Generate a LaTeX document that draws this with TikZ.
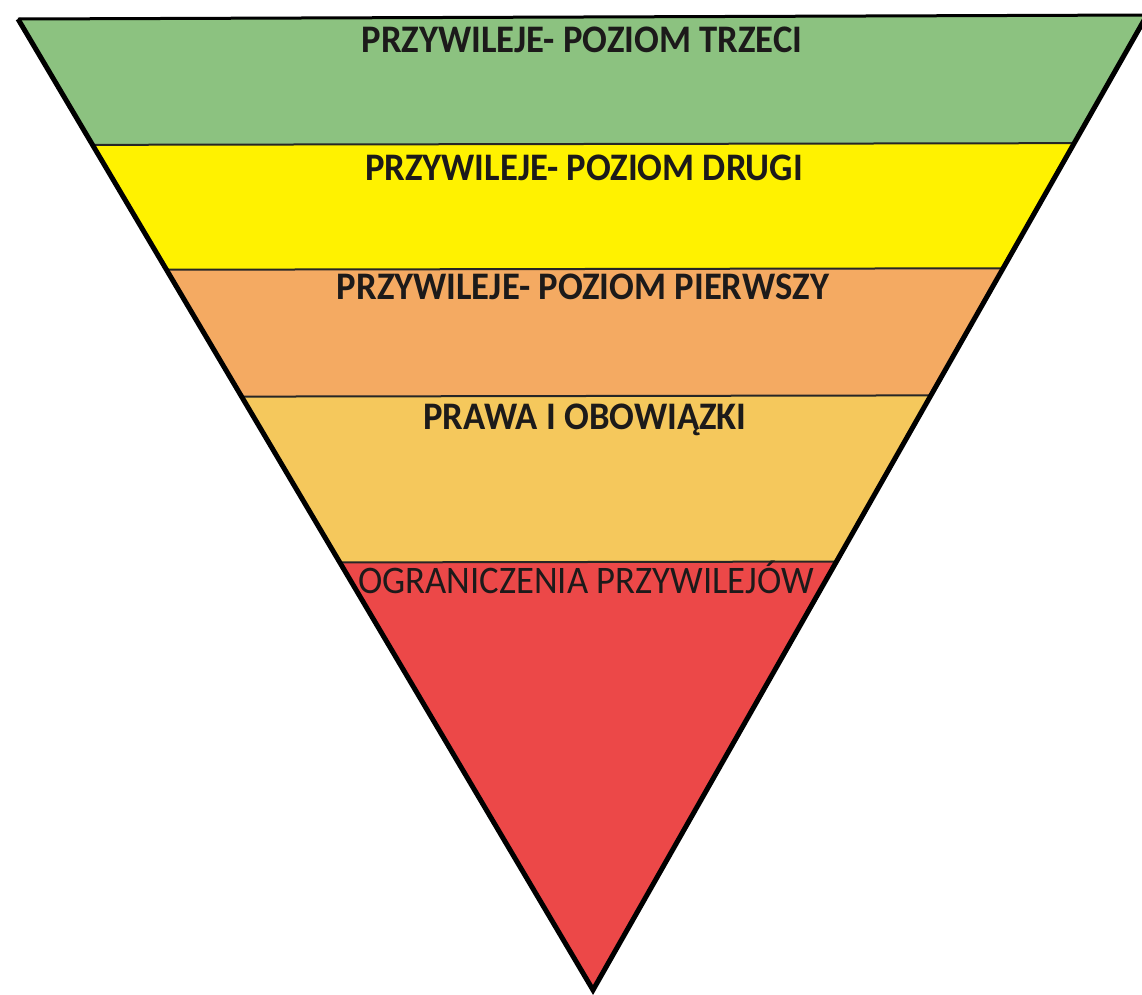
\documentclass[tikz,border=0pt]{standalone}
\usepackage{fontspec}
\setmainfont{Carlito}
\definecolor{cgreen}{HTML}{8CC280}
\definecolor{cyellow}{HTML}{FFF200}
\definecolor{corange}{HTML}{F4AA62}
\definecolor{clight}{HTML}{F5C85C}
\definecolor{cred}{HTML}{EC4848}
\definecolor{ink}{HTML}{1C1A1A}
\newcommand{\narrow}[1]{\scalebox{0.94}[1]{#1}}
\begin{document}
\begin{tikzpicture}[x=1pt,y=-1pt,
  lbl/.style={font=\fontsize{39}{39}\selectfont\bfseries, text=ink, inner sep=0pt, anchor=base},
  lblr/.style={font=\fontsize{39}{39}\selectfont, text=ink, inner sep=0pt, anchor=base},
  side/.style={line width=5pt, line join=miter, black},
  sep/.style={line width=2pt, black!85}]
\useasboundingbox (0,0) rectangle (1142,994);
\clip (0,0) rectangle (1142,994);
\coordinate (tl) at (18,19);
\coordinate (tr) at (1147,15);
\coordinate (ap) at (593,990);
\begin{scope}
  \clip (tl) -- (tr) -- (ap) -- cycle;
  \fill[cgreen]  (0,0) rectangle (1160,146);
  \fill[cyellow] (0,145) -- (1160,143) -- (1160,268) -- (0,270) -- cycle;
  \fill[corange] (0,270) -- (1160,268) -- (1160,395) -- (0,397) -- cycle;
  \fill[clight]  (0,397) -- (1160,395) -- (1160,561) -- (0,563) -- cycle;
  \fill[cred]    (0,563) -- (1160,561) -- (1160,1000) -- (0,1000) -- cycle;
  \draw[sep] (0,145) -- (1160,143);
  \draw[sep] (0,270) -- (1160,268);
  \draw[sep] (0,397) -- (1160,395);
  \draw[sep] (0,563) -- (1160,561);
\end{scope}
\draw[line width=3pt] (tl) -- (tr);
\draw[side] (tl) -- (ap) -- (tr);
\node[lbl]  (t3) at (582,52)  {\narrow{PRZYWILEJE- POZIOM TRZECI}};
\node[lbl]  (t2) at (584,180) {\narrow{PRZYWILEJE- POZIOM DRUGI}};
\node[lbl]  (t1) at (583,299) {\narrow{PRZYWILEJE- POZIOM PIERWSZY}};
\node[lbl]  (t0) at (585,429) {\narrow{PRAWA I OBOWIĄZKI}};
\node[lblr] (tr0) at (586,593) {\narrow{OGRANICZENIA PRZYWILEJÓW}};
\end{tikzpicture}
\end{document}
